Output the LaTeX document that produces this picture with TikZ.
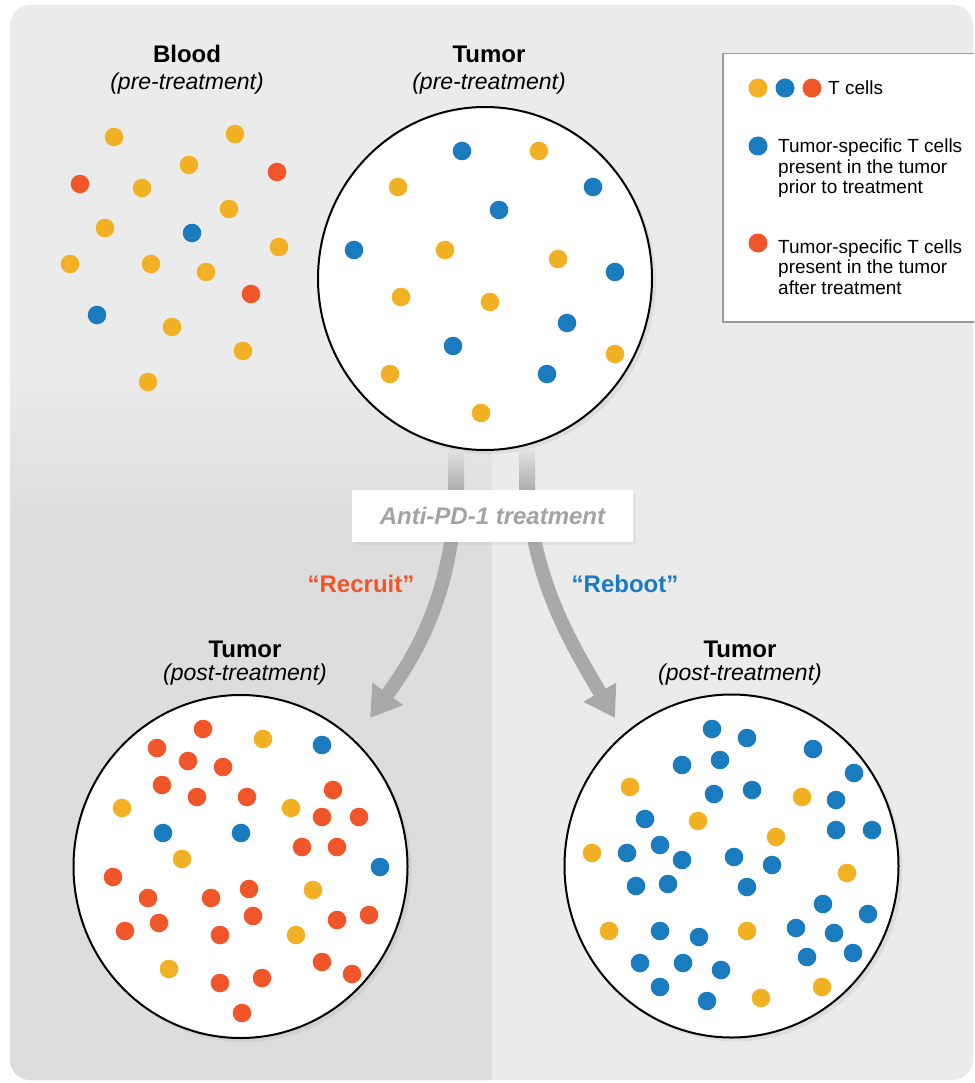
\documentclass[tikz,border=0pt]{standalone}
\usepackage{fontspec}
\setmainfont{Liberation Sans}
\usetikzlibrary{arrows.meta,shapes.geometric,shadows}

\definecolor{cellyellow}{HTML}{F2B124}
\definecolor{cellblue}{HTML}{1B7BBF}
\definecolor{cellred}{HTML}{F1552A}
\definecolor{bglight}{HTML}{EBEBEB}
\definecolor{bgdark}{HTML}{DDDDDD}
\definecolor{arrowgray}{HTML}{A9A9A9}
\definecolor{labelgray}{HTML}{A3A3A3}
\definecolor{legendgray}{HTML}{9A9A9A}

\tikzstyle{tumor}   = [ellipse, draw=black, line width=2pt, fill=white, inner sep=0pt,
                       minimum width=334pt, minimum height=343pt,
                       drop shadow={shadow xshift=4pt, shadow yshift=-4pt, opacity=0.12}]
\tikzstyle{ttl}     = [font=\fontsize{24}{26}\selectfont\bfseries, anchor=base, inner sep=0pt]
\tikzstyle{subttl}  = [font=\fontsize{23}{25}\selectfont\itshape, anchor=base, inner sep=0pt]
\tikzstyle{legtext} = [font=\fontsize{19}{20.5}\selectfont, align=left, anchor=base west, inner sep=0pt]
\tikzstyle{mode}    = [font=\fontsize{24}{26}\selectfont\bfseries, anchor=base, inner sep=0pt]
\tikzstyle{shaft}   = [draw=arrowgray, line width=14pt, -{Triangle[width=36pt,length=30pt]}]
\def\cells#1#2{
  \foreach \x/\y in {#2}
    \fill[#1] (\x,\y) circle (9.3pt);
}

\begin{document}
\begin{tikzpicture}[x=1pt,y=-1pt]
    \useasboundingbox (0,0) rectangle (974,1083);
    \clip (0,0) rectangle (974,1083);
    \fill[bglight, rounded corners=20pt] (10,5) rectangle (973,1080);
    \begin{scope}
      \clip[rounded corners=20pt] (10,5) rectangle (973,1080);
      \shade[top color=bglight, bottom color=bgdark] (0,370) rectangle (492,520);
      \fill[bgdark] (0,519) rectangle (492,1090);
    \end{scope}

    \node[ttl]    (blood title) at (187,63) {Blood};
    \node[subttl] (blood sub)   at (187,90) {(pre-treatment)};
    \cells{cellyellow}{114/137, 235/134, 189/165, 142/188, 229/209, 105/228, 279/247,
                       70/264, 151/264, 206/272, 172/327, 243/351, 148/382}
    \cells{cellred}{277/172, 80/184, 251/294}
    \cells{cellblue}{192/233, 97/315}

    \node[ttl]    (pre title) at (489,63) {Tumor};
    \node[subttl] (pre sub)   at (489,90) {(pre-treatment)};
    \node[tumor]  (pre)       at (485,278.5) {};
    \cells{cellyellow}{539/151, 398/187, 445/250, 558/259, 401/297, 490/302, 615/354,
                       390/374, 481/413}
    \cells{cellblue}{462/151, 593/187, 499/210, 354/250, 615/272, 567/323, 453/346, 547/374}

    \node[draw=legendgray, line width=1.5pt, fill=white, anchor=north west, inner sep=0pt,
          minimum width=262pt, minimum height=268pt] (legend) at (722,53) {};
    \fill[cellyellow] (758,88) circle (9.5pt);
    \fill[cellblue]   (785,88) circle (9.5pt);
    \fill[cellred]    (812,88) circle (9.5pt);
    \node[legtext] (leg all) at (828,95) {T cells};
    \fill[cellblue] (758,146) circle (9.5pt);
    \node[legtext] (leg pre) at (778,194) {Tumor-specific T cells\\present in the tumor\\prior to treatment};
    \fill[cellred] (758,243) circle (9.5pt);
    \node[legtext] (leg post) at (778,294) {Tumor-specific T cells\\present in the tumor\\after treatment};

    \coordinate (recruit start) at (456,490);
    \coordinate (reboot start)  at (527,490);
    \coordinate (recruit tip)   at (370,718);
    \coordinate (reboot tip)    at (615,718);
    \shade[top color=bglight!85!arrowgray, bottom color=arrowgray] (448,450) rectangle (464,492);
    \shade[top color=bglight!85!arrowgray, bottom color=arrowgray] (519,450) rectangle (535,492);
    \draw[shaft] (recruit start) .. controls (452,590) and (420,650) .. (recruit tip);
    \draw[shaft] (reboot start) .. controls (535,585) and (572,645) .. (reboot tip);
    \node[fill=white, minimum width=281pt, minimum height=52pt, inner sep=0pt, text=labelgray,
          font=\fontsize{24}{26}\selectfont\bfseries\itshape,
          drop shadow={shadow xshift=3pt, shadow yshift=-3pt, opacity=0.08}] (treat) at (492.5,516) {Anti-PD-1 treatment};
    \node[mode, text=cellred]  (recruit) at (361,592) {“Recruit”};
    \node[mode, text=cellblue] (reboot)  at (625,592) {“Reboot”};

    \node[ttl]    (recruit title) at (245,657) {Tumor};
    \node[subttl] (recruit sub)   at (245,680) {(post-treatment)};
    \node[tumor]  (post recruit)  at (240.5,866.5) {};
    \cells{cellred}{203/729, 157/748, 188/761, 223/767, 162/785, 333/790, 197/797, 247/797,
                    322/817, 359/817, 302/847, 337/847, 113/877, 249/889, 148/898, 211/898,
                    253/916, 159/923, 337/920, 369/915, 125/931, 220/935, 322/962, 352/974,
                    220/983, 262/978, 242/1013}
    \cells{cellyellow}{263/739, 122/808, 291/808, 182/859, 313/890, 296/935, 169/969}
    \cells{cellblue}{322/745, 163/833, 241/833, 380/867}

    \node[ttl]    (reboot title) at (740,657) {Tumor};
    \node[subttl] (reboot sub)   at (740,680) {(post-treatment)};
    \node[tumor]  (post reboot)  at (731.5,866) {};
    \cells{cellblue}{712/729, 747/738, 813/749, 682/765, 720/760, 854/773, 714/794, 752/790,
                     836/800, 645/819, 836/830, 872/830, 627/853, 660/845, 682/860, 734/857,
                     772/865, 636/886, 668/884, 747/887, 823/904, 868/914, 660/931, 699/937,
                     796/928, 834/933, 853/953, 640/963, 683/963, 721/970, 807/957, 660/987,
                     707/1001}
    \cells{cellyellow}{630/787, 802/797, 698/821, 776/837, 592/853, 847/873, 609/931, 747/931,
                       822/987, 761/998}
\end{tikzpicture}
\end{document}
